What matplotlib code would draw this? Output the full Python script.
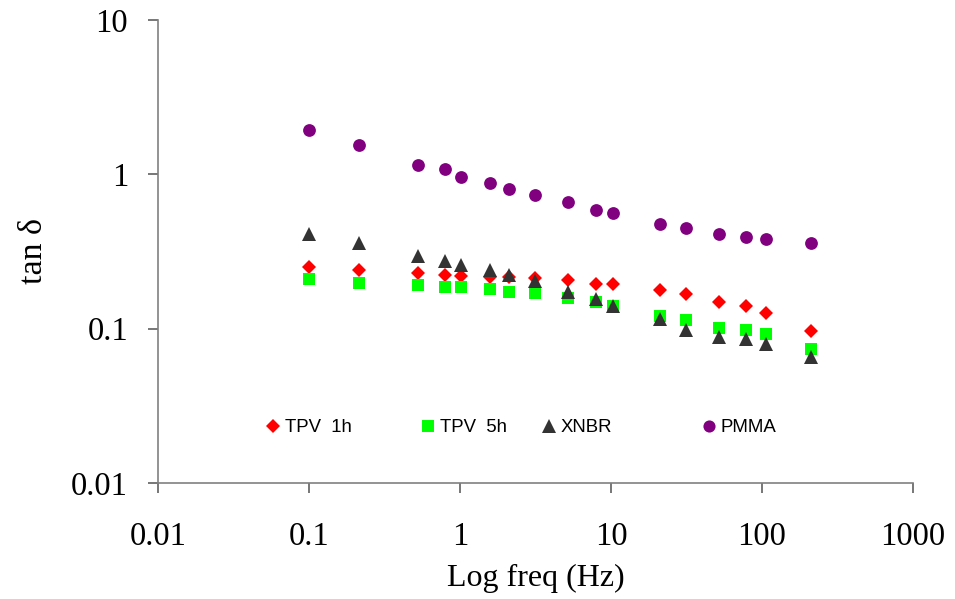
import matplotlib
matplotlib.use("Agg")
import matplotlib.pyplot as plt
from matplotlib.legend import Legend

# frequencies (Hz)
freq = [0.1, 0.215, 0.53, 0.8, 1.02, 1.58, 2.1, 3.15, 5.2, 7.9, 10.3,
        21, 31.5, 52, 78, 106, 211]

# tan delta for each material
tpv_1h = [0.251, 0.241, 0.229, 0.224, 0.218, 0.215, 0.215, 0.213, 0.206,
          0.196, 0.196, 0.178, 0.167, 0.149, 0.140, 0.127, 0.097]
tpv_5h = [0.211, 0.198, 0.193, 0.185, 0.185, 0.181, 0.173, 0.169, 0.158,
          0.148, 0.141, 0.120, 0.113, 0.101, 0.098, 0.092, 0.074]
xnbr = [0.411, 0.358, 0.297, 0.273, 0.260, 0.239, 0.224, 0.205, 0.173,
        0.155, 0.141, 0.115, 0.0986, 0.0879, 0.0861, 0.080, 0.0655]
pmma = [1.95, 1.56, 1.155, 1.09, 0.966, 0.878, 0.807, 0.738, 0.659,
        0.589, 0.561, 0.479, 0.449, 0.408, 0.391, 0.383, 0.357]

series_names = ["TPV  1h", "TPV  5h", "XNBR", "PMMA"]

fig = plt.figure(figsize=(9.55, 5.99), dpi=100)
ax = fig.add_axes([0.1654, 0.1937, 0.7906, 0.7729])

h1, = ax.plot(freq, tpv_1h, linestyle="none", marker="D", ms=7, color="#ff0000", mew=0)
h2, = ax.plot(freq, tpv_5h, linestyle="none", marker="s", ms=9.2, color="#00ff00", mew=0)
h3, = ax.plot(freq, xnbr, linestyle="none", marker="^", ms=10.3, color="#333333", mew=0)
h4, = ax.plot(freq, pmma, linestyle="none", marker="o", ms=9.2, color="#800080", mew=0)

ax.set_xscale("log")
ax.set_yscale("log")
ax.set_xlim(0.01, 1000)
ax.set_ylim(0.01, 10)
ax.set_xticks([0.01, 0.1, 1, 10, 100, 1000])
ax.set_xticklabels(["0.01", "0.1", "1", "10", "100", "1000"])
ax.set_yticks([0.01, 0.1, 1, 10])
ax.set_yticklabels(["0.01", "0.1", "1", "10"])
ax.minorticks_off()

for s in ["top", "right"]:
    ax.spines[s].set_visible(False)
for s in ["left", "bottom"]:
    ax.spines[s].set_color("#808080")
    ax.spines[s].set_linewidth(1.2)

serif = "Liberation Serif"
ax.tick_params(axis="both", direction="out", length=7.5, width=1.2, color="#606060")
ax.tick_params(axis="x", pad=20)
ax.tick_params(axis="y", pad=14)
for lab in ax.get_xticklabels() + ax.get_yticklabels():
    lab.set_fontfamily(serif)
    lab.set_fontsize(23.5)

ax.set_xlabel("Log freq (Hz)", fontfamily=serif, fontsize=23)
ax.set_ylabel("tan δ", fontfamily=serif, fontsize=24.5)
ax.xaxis.set_label_coords(0.5, -0.175)
ax.yaxis.set_label_coords(-0.144, 0.5)

# legend entries, spaced like the original
handles = [h1, h2, h3, h4]
anchors = [0.1424, 0.3477, 0.5079, 0.7198]
for h, name, xa in zip(handles, series_names, anchors):
    leg = Legend(ax, [h], [name], loc="center left", bbox_to_anchor=(xa, 0.1188),
                 frameon=False, prop={"family": "Liberation Sans", "size": 13.4},
                 handlelength=0.8, handletextpad=0.25, borderpad=0,
                 borderaxespad=0, markerscale=0.95)
    ax.add_artist(leg)

fig.savefig("out.png", dpi=100)
